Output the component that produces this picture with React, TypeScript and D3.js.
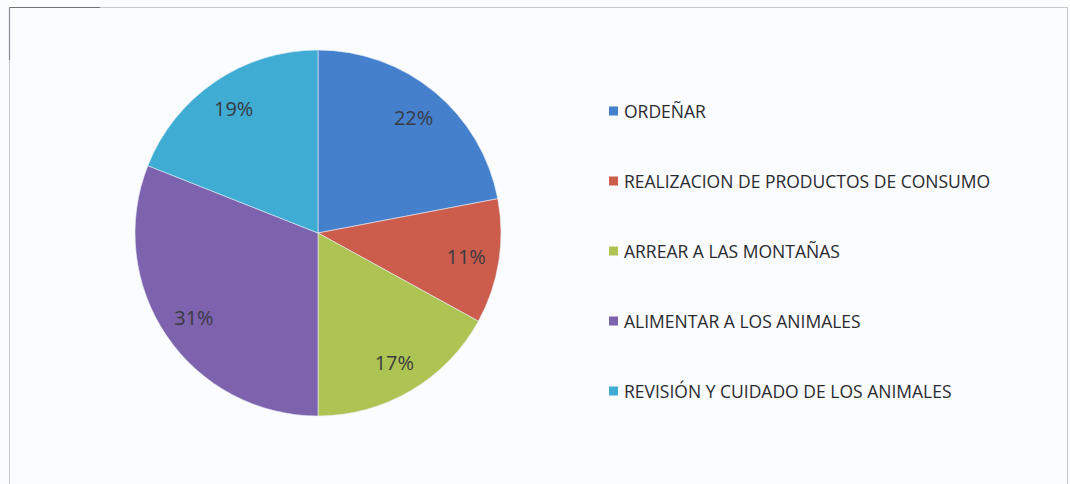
/**
 * Pie chart of livestock tasks. Starts at 12 o'clock, clockwise, legend on the right.
 */
import React, { useRef, useEffect } from 'react';
import * as d3 from 'd3';

const WIDTH = 1070;
const HEIGHT = 484;
const CX = 318;
const CY = 233;
const RADIUS = 183;
const LABEL_R = 150;
const FONT = '"Open Sans", Lato, sans-serif';

const categories = [
  'ORDEÑAR',
  'REALIZACION DE PRODUCTOS DE CONSUMO',
  'ARREAR A LAS MONTAÑAS',
  'ALIMENTAR A LOS ANIMALES',
  'REVISIÓN Y CUIDADO DE LOS ANIMALES',
];
const values = [22, 11, 17, 31, 19];
const colors = ['#4580cc', '#cc5d4c', '#adc452', '#7d62ad', '#3eacd3'];

export default function App() {
  const svgRef = useRef<SVGSVGElement>(null);

  useEffect(() => {
    if (!svgRef.current) return;
    const svg = d3.select(svgRef.current);
    svg.selectAll('*').remove();

    // page background + chart frame
    svg.append('rect').attr('width', WIDTH).attr('height', HEIGHT).attr('fill', '#fafcfe');
    svg
      .append('rect')
      .attr('x', 9.5)
      .attr('y', 7.5)
      .attr('width', WIDTH - 12)
      .attr('height', HEIGHT + 10)
      .attr('fill', 'none')
      .attr('stroke', '#c4c8ce')
      .attr('stroke-width', 1);
    svg
      .append('line')
      .attr('x1', 9.5)
      .attr('y1', 7.5)
      .attr('x2', 100)
      .attr('y2', 7.5)
      .attr('stroke', '#6e7278')
      .attr('stroke-width', 1.2);
    svg
      .append('line')
      .attr('x1', 9.5)
      .attr('y1', 7.5)
      .attr('x2', 9.5)
      .attr('y2', 60)
      .attr('stroke', '#8a8e94')
      .attr('stroke-width', 1.2);

    const pie = d3
      .pie<number>()
      .sort(null)
      .value((d) => d);
    const arcs = pie(values);

    const arc = d3.arc<d3.PieArcDatum<number>>().innerRadius(0).outerRadius(RADIUS);
    const labelArc = d3.arc<d3.PieArcDatum<number>>().innerRadius(LABEL_R).outerRadius(LABEL_R);

    const g = svg.append('g').attr('transform', `translate(${CX}, ${CY})`);

    g.selectAll('path.slice')
      .data(arcs)
      .join('path')
      .attr('class', 'slice')
      .attr('d', (d) => arc(d) ?? '')
      .attr('fill', (_, i) => colors[i])
      .attr('stroke', '#e8eef6')
      .attr('stroke-width', 0.6);

    const total = d3.sum(values);
    g.selectAll('text.pct')
      .data(arcs)
      .join('text')
      .attr('class', 'pct')
      .attr('transform', (d) => {
        const [x, y] = labelArc.centroid(d);
        return `translate(${x}, ${y})`;
      })
      .attr('text-anchor', 'middle')
      .attr('dominant-baseline', 'central')
      .attr('fill', '#3a3a42')
      .attr('font-size', '20px')
      .attr('font-family', FONT)
      .text((d) => `${Math.round((d.value / total) * 100)}%`);

    // legend
    const legendX = 609;
    const legendY = d3
      .scalePoint<string>()
      .domain(categories)
      .range([111, 391]);

    const items = svg
      .selectAll('g.legend')
      .data(categories)
      .join('g')
      .attr('class', 'legend')
      .attr('transform', (d) => `translate(${legendX}, ${legendY(d)})`);

    items
      .append('rect')
      .attr('x', 0)
      .attr('y', -4.5)
      .attr('width', 9)
      .attr('height', 9)
      .attr('fill', (_, i) => colors[i]);

    items
      .append('text')
      .attr('x', 15)
      .attr('y', 0)
      .attr('dominant-baseline', 'central')
      .attr('fill', '#2a2a30')
      .attr('font-size', '17.5px')
      .attr('font-family', FONT)
      .text((d) => d);
  }, []);

  return (
    <svg
      ref={svgRef}
      width={WIDTH}
      height={HEIGHT}
      viewBox={`0 0 ${WIDTH} ${HEIGHT}`}
      style={{ position: 'absolute', left: 0, top: 0, display: 'block' }}
    />
  );
}
